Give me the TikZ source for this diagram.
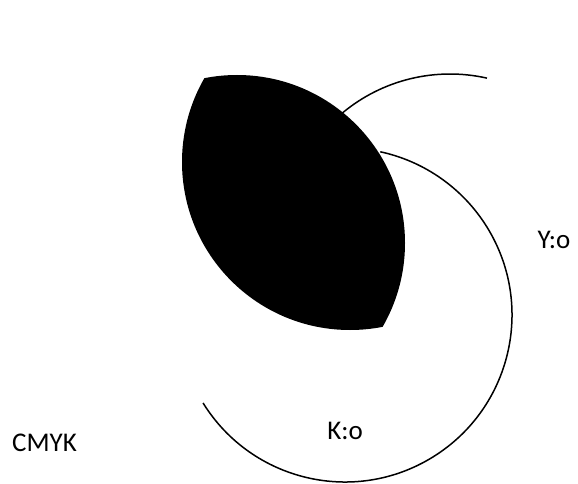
\documentclass[tikz,border=0pt]{standalone}
\usepackage{fontspec}
\setmainfont{Carlito}
\begin{document}
\begin{tikzpicture}[
    x=1pt, y=1pt,
    every node/.style={font=\fontsize{27}{32}\selectfont, inner sep=0pt},
    ring/.style={line width=1.5pt},
    lens/.style={fill=black},
]
\useasboundingbox (0,0) rectangle (578,483);
% open rings, drawn first so the lens covers their ends
\draw[ring] ([shift={(211.8:167)}]345,168) coordinate (kstart)
    arc[start angle=211.8, end angle=437.8, radius=167];
\draw[ring] ([shift={(77.3:168)}]450,241) coordinate (ystart)
    arc[start angle=77.3, end angle=130, radius=168];
% black lens
\begin{scope}
\clip (237,240) circle (168);
\fill[lens] (350,321) circle (168);
\end{scope}
\node (cmyk) at (44.5,40.5) {CMYK};
\node (klabel) at (345,52) {K:o};
\node (ylabel) at (554,243) {Y:o};
\end{tikzpicture}
\end{document}
